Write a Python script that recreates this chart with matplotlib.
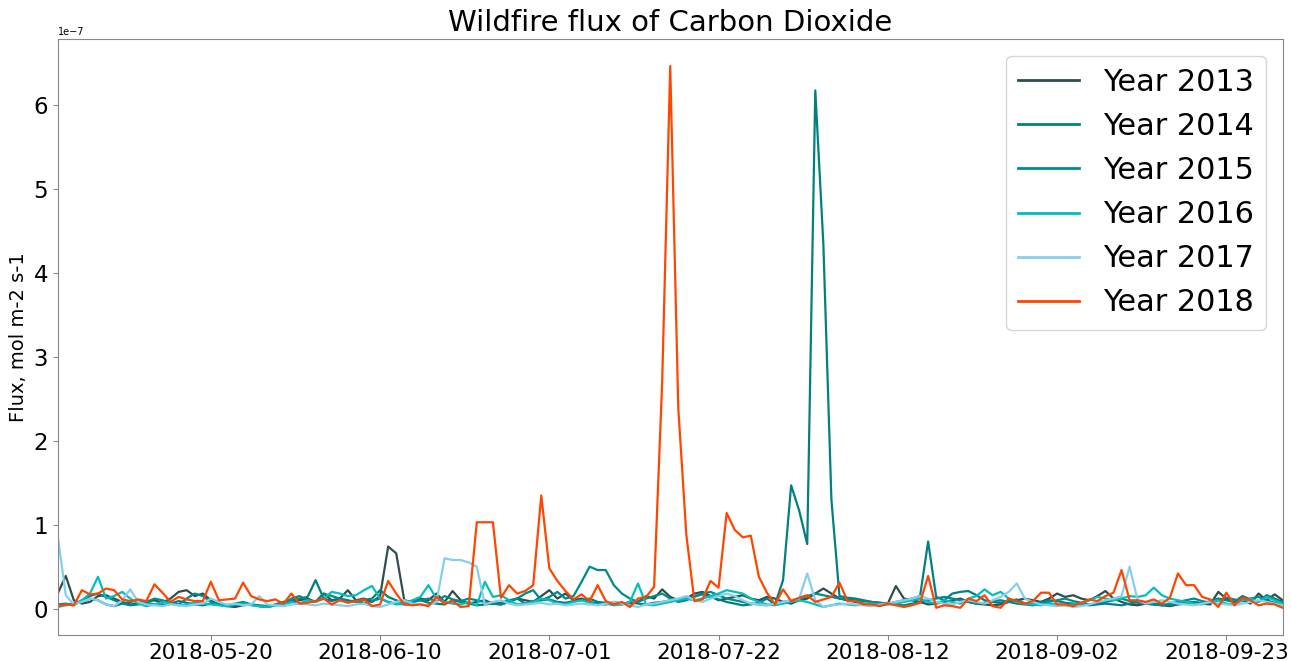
import numpy as np
import pandas as pd
import matplotlib
matplotlib.use("Agg")
import matplotlib.pyplot as plt

start_date = "2018-05-01"
n_days = 153
tick_labels = ["2018-05-20", "2018-06-10", "2018-07-01", "2018-07-22",
               "2018-08-12", "2018-09-02", "2018-09-23"]
years = ["Year 2013", "Year 2014", "Year 2015", "Year 2016", "Year 2017", "Year 2018"]
colors = ["darkslategray", "teal", "darkcyan", "c", "skyblue", "orangered"]

# values in units of 1e-7 mol m-2 s-1
y2013 = [0.18,0.39,0.10,0.06,0.08,0.15,0.16,0.12,0.08,0.05,
         0.06,0.08,0.10,0.07,0.12,0.20,0.22,0.15,0.18,0.10,
         0.05,0.03,0.02,0.04,0.05,0.03,0.02,0.04,0.06,0.08,
         0.10,0.12,0.08,0.18,0.10,0.12,0.22,0.10,0.12,0.08,
         0.15,0.74,0.66,0.10,0.08,0.12,0.10,0.18,0.08,0.21,
         0.10,0.06,0.08,0.10,0.06,0.05,0.08,0.12,0.10,0.08,
         0.15,0.22,0.12,0.18,0.10,0.12,0.08,0.06,0.05,0.08,
         0.06,0.05,0.08,0.15,0.12,0.23,0.14,0.10,0.12,0.18,
         0.20,0.15,0.10,0.12,0.14,0.16,0.12,0.10,0.14,0.12,
         0.08,0.06,0.10,0.12,0.18,0.24,0.18,0.12,0.10,0.08,
         0.06,0.05,0.04,0.06,0.27,0.12,0.10,0.08,0.05,0.06,
         0.08,0.10,0.12,0.08,0.06,0.05,0.04,0.05,0.08,0.10,
         0.12,0.10,0.08,0.12,0.18,0.14,0.16,0.12,0.10,0.15,
         0.21,0.12,0.08,0.05,0.04,0.06,0.05,0.04,0.03,0.05,
         0.06,0.08,0.06,0.05,0.20,0.12,0.08,0.10,0.06,0.18,
         0.10,0.17,0.10]

y2014 = [0.04,0.05,0.06,0.08,0.12,0.10,0.05,0.03,0.06,0.08,
         0.10,0.07,0.05,0.04,0.06,0.09,0.07,0.05,0.04,0.06,
         0.05,0.03,0.04,0.06,0.05,0.04,0.03,0.05,0.08,0.10,
         0.12,0.14,0.34,0.12,0.09,0.12,0.10,0.08,0.10,0.12,
         0.22,0.14,0.10,0.06,0.08,0.10,0.07,0.06,0.05,0.10,
         0.08,0.06,0.04,0.05,0.06,0.07,0.10,0.12,0.06,0.09,
         0.10,0.11,0.08,0.07,0.09,0.10,0.12,0.08,0.07,0.06,
         0.05,0.08,0.06,0.05,0.07,0.08,0.10,0.09,0.12,0.15,
         0.17,0.14,0.11,0.08,0.06,0.04,0.05,0.07,0.12,0.05,
         0.34,1.47,1.17,0.77,6.18,4.35,1.30,0.15,0.13,0.12,
         0.10,0.08,0.07,0.06,0.08,0.10,0.12,0.15,0.80,0.14,
         0.10,0.18,0.20,0.21,0.16,0.10,0.08,0.07,0.09,0.11,
         0.06,0.05,0.08,0.10,0.09,0.07,0.06,0.05,0.04,0.05,
         0.06,0.05,0.04,0.06,0.08,0.07,0.06,0.05,0.04,0.06,
         0.07,0.08,0.06,0.09,0.12,0.10,0.08,0.15,0.11,0.08,
         0.16,0.12,0.08]

y2015 = [0.05,0.06,0.04,0.10,0.15,0.18,0.14,0.10,0.06,0.04,
         0.05,0.08,0.12,0.10,0.07,0.05,0.12,0.18,0.15,0.08,
         0.05,0.04,0.06,0.08,0.05,0.03,0.02,0.04,0.06,0.12,
         0.15,0.10,0.08,0.18,0.15,0.12,0.08,0.10,0.06,0.09,
         0.12,0.08,0.06,0.05,0.08,0.10,0.12,0.09,0.15,0.11,
         0.09,0.12,0.10,0.08,0.06,0.05,0.08,0.12,0.18,0.22,
         0.10,0.14,0.20,0.12,0.15,0.32,0.50,0.46,0.46,0.28,
         0.18,0.12,0.08,0.12,0.15,0.18,0.12,0.08,0.10,0.14,
         0.18,0.20,0.16,0.12,0.10,0.08,0.06,0.05,0.04,0.06,
         0.08,0.10,0.12,0.15,0.18,0.16,0.14,0.12,0.11,0.10,
         0.09,0.08,0.07,0.06,0.05,0.04,0.06,0.08,0.10,0.12,
         0.14,0.12,0.10,0.08,0.06,0.07,0.09,0.10,0.08,0.06,
         0.05,0.04,0.06,0.08,0.10,0.12,0.09,0.07,0.05,0.06,
         0.08,0.10,0.12,0.09,0.07,0.06,0.05,0.04,0.06,0.08,
         0.10,0.12,0.09,0.07,0.10,0.13,0.11,0.09,0.12,0.14,
         0.10,0.07,0.05]

y2016 = [0.02,0.04,0.05,0.10,0.18,0.38,0.12,0.15,0.20,0.12,
         0.06,0.03,0.05,0.08,0.06,0.04,0.05,0.07,0.06,0.05,
         0.04,0.03,0.05,0.06,0.04,0.03,0.02,0.04,0.05,0.08,
         0.06,0.10,0.08,0.12,0.20,0.18,0.15,0.16,0.22,0.27,
         0.12,0.08,0.05,0.06,0.10,0.14,0.28,0.12,0.08,0.06,
         0.05,0.08,0.04,0.32,0.14,0.16,0.10,0.05,0.06,0.08,
         0.12,0.10,0.06,0.05,0.08,0.10,0.07,0.05,0.06,0.04,
         0.05,0.08,0.30,0.05,0.04,0.06,0.08,0.10,0.12,0.10,
         0.12,0.15,0.18,0.22,0.20,0.18,0.12,0.08,0.05,0.04,
         0.06,0.08,0.10,0.08,0.05,0.02,0.04,0.06,0.05,0.04,
         0.05,0.06,0.04,0.05,0.06,0.08,0.10,0.12,0.08,0.06,
         0.10,0.08,0.06,0.12,0.15,0.23,0.16,0.20,0.12,0.08,
         0.06,0.05,0.04,0.06,0.05,0.04,0.05,0.06,0.10,0.14,
         0.12,0.10,0.12,0.15,0.14,0.16,0.25,0.16,0.12,0.10,
         0.08,0.06,0.05,0.08,0.10,0.06,0.05,0.10,0.12,0.08,
         0.14,0.10,0.06]

y2017 = [0.87,0.16,0.05,0.08,0.12,0.10,0.05,0.03,0.10,0.23,
         0.08,0.05,0.04,0.03,0.05,0.04,0.03,0.05,0.06,0.12,
         0.08,0.05,0.06,0.04,0.05,0.15,0.05,0.04,0.03,0.05,
         0.06,0.05,0.04,0.06,0.05,0.04,0.03,0.05,0.06,0.03,
         0.02,0.05,0.08,0.10,0.06,0.05,0.04,0.08,0.60,0.58,
         0.58,0.55,0.50,0.05,0.08,0.10,0.06,0.04,0.05,0.06,
         0.07,0.05,0.06,0.04,0.05,0.06,0.05,0.04,0.06,0.08,
         0.06,0.04,0.02,0.05,0.06,0.08,0.10,0.12,0.15,0.10,
         0.08,0.12,0.15,0.18,0.15,0.10,0.06,0.05,0.04,0.06,
         0.08,0.10,0.12,0.42,0.10,0.02,0.04,0.05,0.06,0.05,
         0.04,0.03,0.05,0.06,0.08,0.10,0.12,0.15,0.12,0.08,
         0.06,0.05,0.08,0.10,0.08,0.06,0.10,0.14,0.20,0.30,
         0.12,0.08,0.05,0.04,0.03,0.04,0.02,0.03,0.05,0.08,
         0.10,0.12,0.15,0.50,0.10,0.06,0.08,0.10,0.08,0.06,
         0.05,0.04,0.06,0.08,0.06,0.05,0.04,0.06,0.08,0.10,
         0.08,0.06,0.04]

y2018 = [0.03,0.05,0.04,0.22,0.17,0.18,0.24,0.22,0.11,0.09,
         0.11,0.09,0.29,0.19,0.08,0.14,0.11,0.09,0.09,0.32,
         0.10,0.11,0.12,0.31,0.15,0.11,0.09,0.11,0.06,0.18,
         0.06,0.07,0.09,0.12,0.05,0.10,0.07,0.09,0.11,0.03,
         0.05,0.33,0.18,0.05,0.04,0.05,0.03,0.14,0.06,0.09,
         0.02,0.03,1.03,1.03,1.03,0.13,0.28,0.18,0.21,0.28,
         1.35,0.48,0.33,0.21,0.11,0.17,0.09,0.28,0.09,0.05,
         0.08,0.02,0.12,0.14,0.26,2.70,6.47,2.39,0.88,0.09,
         0.11,0.33,0.25,1.14,0.94,0.85,0.87,0.38,0.19,0.05,
         0.23,0.09,0.13,0.16,0.08,0.11,0.14,0.31,0.09,0.09,
         0.05,0.05,0.03,0.06,0.04,0.02,0.04,0.07,0.39,0.01,
         0.04,0.03,0.01,0.12,0.09,0.16,0.03,0.01,0.12,0.09,
         0.06,0.09,0.19,0.19,0.05,0.05,0.03,0.07,0.11,0.09,
         0.15,0.19,0.46,0.10,0.10,0.08,0.11,0.06,0.13,0.42,
         0.28,0.28,0.14,0.11,0.02,0.19,0.04,0.13,0.10,0.04,
         0.06,0.05,0.01]

series = [y2013, y2014, y2015, y2016, y2017, y2018]
dates = pd.date_range(start_date, periods=n_days, freq="D")

fig = plt.figure(figsize=(12.91, 6.61), dpi=100)
ax = fig.add_axes([0.0447, 0.0395, 0.9489, 0.9015])

for vals, lab, col in zip(series, years, colors):
    n = min(len(vals), n_days)
    ax.plot(dates[:n], np.array(vals[:n]) * 1e-7, color=col, lw=1.6, label=lab)

ax.set_xlim(dates[0], dates[-1])
ax.set_xticks(pd.to_datetime(tick_labels))
ax.set_xticklabels(tick_labels)
ax.tick_params(axis="x", labelsize=15.5, color="#888888", pad=2)
ax.tick_params(axis="y", labelsize=16.5, color="#888888")
ax.yaxis.get_offset_text().set_fontsize(7)
for sp in ax.spines.values():
    sp.set_color("#888888")

ax.set_title("Wildfire flux of Carbon Dioxide", fontsize=21)
ax.set_ylabel("Flux, mol m-2 s-1", fontsize=14)
leg = ax.legend(loc="upper right", fontsize=21.8, borderaxespad=0.55,
                handlelength=2.0)
for h in leg.get_lines():
    h.set_linewidth(2.0)

fig.savefig("out.png", dpi=100)
